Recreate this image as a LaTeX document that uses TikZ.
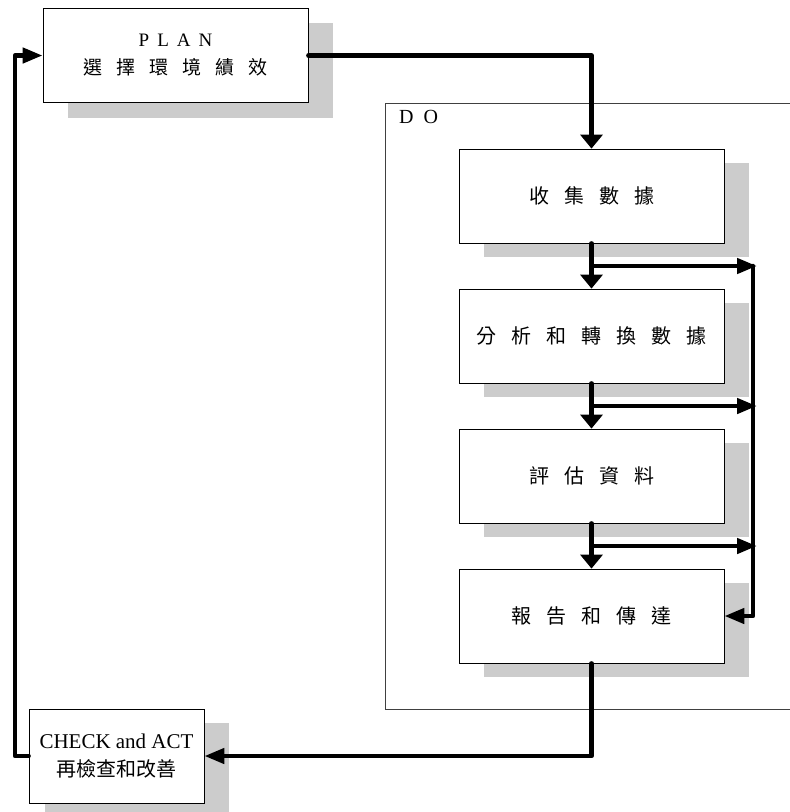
\documentclass[tikz,border=0pt]{standalone}
\usepackage{fontspec}
\setmainfont{Liberation Serif}
\newfontfamily\cjk{Noto Sans CJK TC}
\usetikzlibrary{arrows.meta,shadows}
\definecolor{shade}{RGB}{204,204,204}
\newcommand\gapw[1]{\hspace{#1pt}}
\begin{document}
\begin{tikzpicture}[x=1pt,y=-1pt,
  box/.style={draw=black, line width=0.8pt, fill=white, inner sep=0pt,
    minimum width=265pt, minimum height=94pt, align=center,
    drop shadow={shadow xshift=25pt, shadow yshift=-14pt, fill=shade, opacity=1}},
  conn/.style={line width=4.5pt, line cap=round, line join=round},
  vtip/.style={-{Triangle[length=14pt,width=22pt]}},
  htip/.style={-{Triangle[length=20pt,width=15pt]}},
  twoline/.style={font=\fontsize{19}{28}\selectfont},
  cjkbox/.style={font=\cjk\fontsize{20}{24}\selectfont}
]
\clip (0,0) rectangle (790,812);
\useasboundingbox (0,0) rectangle (790,812);

% DO frame
\draw[line width=0.8pt, draw=black!75] (385,103) rectangle (820,709);
\node[anchor=base west, inner sep=0pt, font=\fontsize{20}{24}\selectfont] (dolabel) at (399,123) {D\gapw{10}O};

% PLAN
\node[box, twoline, drop shadow={shadow xshift=25pt, shadow yshift=-15pt, fill=shade, opacity=1}] (plan) at (175.5,55.5)
  {P\gapw{8}L\gapw{8}A\gapw{8}N\\{\cjk\fontsize{19}{28}\selectfont 選\gapw{14}擇\gapw{14}環\gapw{14}境\gapw{14}績\gapw{14}效}};

% DO steps
\node[box, cjkbox] (b1) at (591.5,196) {收\gapw{15}集\gapw{15}數\gapw{15}據};
\node[box, cjkbox] (b2) at (591.5,336) {分\gapw{15}析\gapw{15}和\gapw{15}轉\gapw{15}換\gapw{15}數\gapw{15}據};
\node[box, cjkbox] (b3) at (591.5,476) {評\gapw{15}估\gapw{15}資\gapw{15}料};
\node[box, cjkbox] (b4) at (591.5,616) {報\gapw{15}告\gapw{15}和\gapw{15}傳\gapw{15}達};

% CHECK and ACT
\node[box, minimum width=175pt, font=\fontsize{21}{28}\selectfont,
  drop shadow={shadow xshift=16pt, shadow yshift=-14pt, fill=shade, opacity=1}] (chk) at (116.5,756)
  {CHECK and ACT\\{\cjk\fontsize{20}{28}\selectfont 再檢查和改善}};

% junction coordinates
\coordinate (j1) at (591.5,266);
\coordinate (j2) at (591.5,406);
\coordinate (j3) at (591.5,546);
\coordinate (k1) at (757,266);
\coordinate (k2) at (757,406);
\coordinate (k3) at (757,546);
\coordinate (t1) at (753,266);
\coordinate (t4) at (753,616);
\coordinate (lc) at (15,756);

% connectors
\draw[conn, vtip] (plan.east) -| (b1.north);
\draw[conn, vtip] (b1.south) -- (b2.north);
\draw[conn, vtip] (b2.south) -- (b3.north);
\draw[conn, vtip] (b3.south) -- (b4.north);
\draw[conn, htip] (j1) -- (k1);
\draw[conn, htip] (j2) -- (k2);
\draw[conn, htip] (j3) -- (k3);
\draw[conn, htip] (t1) -- (t4) -- (b4.east);
\draw[conn, htip] (b4.south) |- (chk.east);
\draw[conn, htip] (chk.west) -- (lc) |- (plan.west);
\end{tikzpicture}
\end{document}
